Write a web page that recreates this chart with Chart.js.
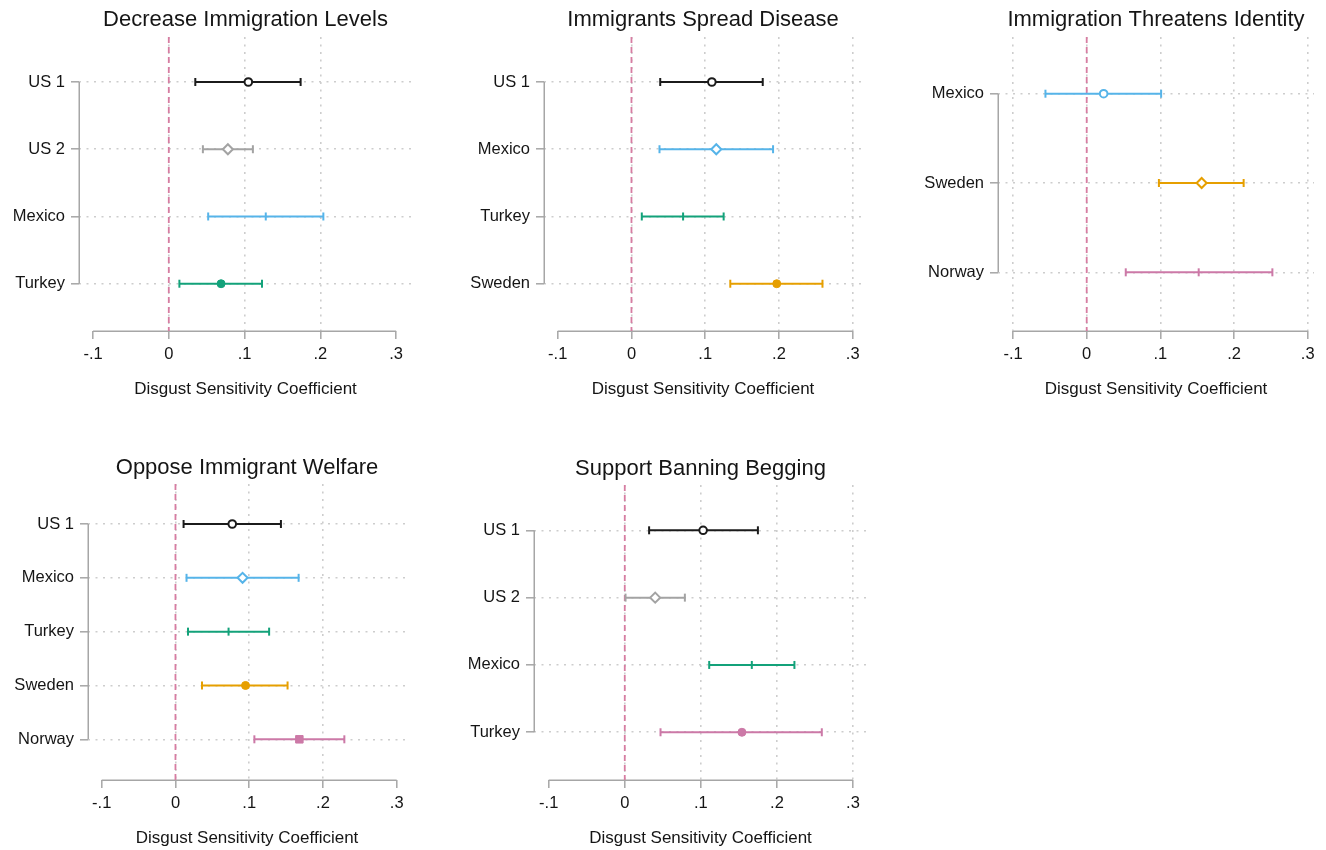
<!DOCTYPE html>
<html>
<head>
<meta charset="utf-8">
<script src="https://cdn.jsdelivr.net/npm/chart.js@4.4.1/dist/chart.umd.min.js"></script>
<style>
  html, body { margin: 0; padding: 0; background: #fff; width: 1326px; height: 850px; overflow: hidden; }
  canvas { position: absolute; }
</style>
</head>
<body>
<canvas id="c1"></canvas>
<canvas id="c2"></canvas>
<canvas id="c3"></canvas>
<canvas id="c4"></canvas>
<canvas id="c5"></canvas>
<script>
// ---------------- DATA ----------------
const xTickValues = [-0.1, 0, 0.1, 0.2, 0.3];
const xTickLabels = ['-.1', '0', '.1', '.2', '.3'];
const xAxisTitle = 'Disgust Sensitivity Coefficient';

const p1Title = 'Decrease Immigration Levels';
const p1Groups = ['US 1', 'US 2', 'Mexico', 'Turkey'];
const p1Est = [0.105, 0.078, 0.128, 0.069];
const p1Lo  = [0.035, 0.045, 0.052, 0.014];
const p1Hi  = [0.174, 0.111, 0.204, 0.123];

const p2Title = 'Immigrants Spread Disease';
const p2Groups = ['US 1', 'Mexico', 'Turkey', 'Sweden'];
const p2Est = [0.109, 0.115, 0.070, 0.197];
const p2Lo  = [0.039, 0.038, 0.014, 0.134];
const p2Hi  = [0.178, 0.192, 0.125, 0.259];

const p3Title = 'Immigration Threatens Identity';
const p3Groups = ['Mexico', 'Sweden', 'Norway'];
const p3Est = [0.023, 0.156, 0.152];
const p3Lo  = [-0.056, 0.098, 0.053];
const p3Hi  = [0.101, 0.213, 0.252];

const p4Title = 'Oppose Immigrant Welfare';
const p4Groups = ['US 1', 'Mexico', 'Turkey', 'Sweden', 'Norway'];
const p4Est = [0.077, 0.091, 0.072, 0.095, 0.168];
const p4Lo  = [0.011, 0.015, 0.017, 0.036, 0.107];
const p4Hi  = [0.143, 0.167, 0.127, 0.152, 0.229];

const p5Title = 'Support Banning Begging';
const p5Groups = ['US 1', 'US 2', 'Mexico', 'Turkey'];
const p5Est = [0.103, 0.040, 0.167, 0.154];
const p5Lo  = [0.032, 0.001, 0.111, 0.047];
const p5Hi  = [0.175, 0.079, 0.223, 0.259];

// vertical grid lines shown in each panel (tick values)
const p1Grid = [0, 0.1, 0.2];
const p2Grid = [0, 0.1, 0.2, 0.3];
const p3Grid = [-0.1, 0, 0.1, 0.2, 0.3];
const p4Grid = [0, 0.1, 0.2];
const p5Grid = [0, 0.1, 0.2, 0.3];

// ---------------- STYLES ----------------
const C = {
  black: '#1b1b1b', gray: '#a3a3a3', blue: '#56b4e9',
  green: '#13a27a', orange: '#e69f00', pink: '#cc79a7'
};
const p1Colors = [C.black, C.gray, C.blue, C.green];
const p2Colors = [C.black, C.blue, C.green, C.orange];
const p3Colors = [C.blue, C.orange, C.pink];
const p4Colors = [C.black, C.blue, C.green, C.orange, C.pink];
const p5Colors = [C.black, C.gray, C.green, C.pink];
const p1Markers = ['Oh', 'Dh', 'tick', 'O'];
const p2Markers = ['Oh', 'Dh', 'tick', 'O'];
const p3Markers = ['Oh', 'Dh', 'tick'];
const p4Markers = ['Oh', 'Dh', 'tick', 'O', 'S'];
const p5Markers = ['Oh', 'Dh', 'tick', 'O'];

// layout boxes (page pixels)
const layouts = [
  { id: 'c1', cx: 0,   cy: 0,   cw: 440, ch: 410, L: 79,  R: 412,  T: 37,  B: 331, titleY: 20,  xmin: -0.1185, xmax: 0.321,  ymin: 0.331, ymax: 4.703 },
  { id: 'c2', cx: 440, cy: 0,   cw: 440, ch: 410, L: 544, R: 862,  T: 37,  B: 331, titleY: 20,  xmin: -0.1186, xmax: 0.3126, ymin: 0.331, ymax: 4.703 },
  { id: 'c3', cx: 880, cy: 0,   cw: 446, ch: 410, L: 998, R: 1314, T: 37,  B: 331, titleY: 20,  xmin: -0.1204, xmax: 0.3085, ymin: 0.365, ymax: 3.657 },
  { id: 'c4', cx: 0,   cy: 440, cw: 440, ch: 410, L: 88,  R: 406,  T: 484, B: 780, titleY: 468, xmin: -0.1186, xmax: 0.3126, ymin: 0.257, ymax: 5.756 },
  { id: 'c5', cx: 440, cy: 440, cw: 440, ch: 410, L: 534, R: 867,  T: 485, B: 780, titleY: 469, xmin: -0.1193, xmax: 0.3184, ymin: 0.327, ymax: 4.709 }
];

const panels = [
  { title: p1Title, groups: p1Groups, est: p1Est, lo: p1Lo, hi: p1Hi, colors: p1Colors, markers: p1Markers, grid: p1Grid },
  { title: p2Title, groups: p2Groups, est: p2Est, lo: p2Lo, hi: p2Hi, colors: p2Colors, markers: p2Markers, grid: p2Grid },
  { title: p3Title, groups: p3Groups, est: p3Est, lo: p3Lo, hi: p3Hi, colors: p3Colors, markers: p3Markers, grid: p3Grid },
  { title: p4Title, groups: p4Groups, est: p4Est, lo: p4Lo, hi: p4Hi, colors: p4Colors, markers: p4Markers, grid: p4Grid },
  { title: p5Title, groups: p5Groups, est: p5Est, lo: p5Lo, hi: p5Hi, colors: p5Colors, markers: p5Markers, grid: p5Grid }
];

const FONT = 'Arial, "Liberation Sans", Helvetica, sans-serif';
const TITLE_SIZE = 22, TICK_SIZE = 16.5, AXT_SIZE = 17;
const AXIS_COLOR = '#a6a6a6', GRID_COLOR = '#cdcdcd', ZERO_COLOR = '#d77da2', TEXT_COLOR = '#151515';

function markerStyle(m, col) {
  switch (m) {
    case 'Oh':   return { pointStyle: 'circle',  radius: 3.8, bg: '#ffffff', bw: 2,   rot: 0 };
    case 'Dh':   return { pointStyle: 'rectRot', radius: 5,   bg: '#ffffff', bw: 2,   rot: 0 };
    case 'tick': return { pointStyle: 'line',    radius: 4,   bg: col,       bw: 2,   rot: 90 };
    case 'O':    return { pointStyle: 'circle',  radius: 4,   bg: col,       bw: 1,   rot: 0 };
    case 'S':    return { pointStyle: 'rect',    radius: 5.3, bg: col,       bw: 1,   rot: 0 };
  }
}

// axis lines drawn only over the data span, like Stata
const stataAxes = {
  id: 'stataAxes',
  beforeDatasetsDraw(chart, args, opts) {
    const { ctx, chartArea, scales } = chart;
    const n = opts.n;
    ctx.save();
    ctx.strokeStyle = AXIS_COLOR;
    ctx.lineWidth = 1.5;
    ctx.beginPath();
    const xL = Math.round(chartArea.left) + 0.25;
    ctx.moveTo(xL, scales.y.getPixelForValue(1));
    ctx.lineTo(xL, scales.y.getPixelForValue(n));
    const yB = Math.round(chartArea.bottom) + 0.25;
    ctx.moveTo(scales.x.getPixelForValue(xTickValues[0]), yB);
    ctx.lineTo(scales.x.getPixelForValue(xTickValues[xTickValues.length - 1]), yB);
    ctx.stroke();
    ctx.restore();
  }
};

panels.forEach((p, k) => {
  const lay = layouts[k];
  const cv = document.getElementById(lay.id);
  cv.width = lay.cw; cv.height = lay.ch;
  cv.style.left = lay.cx + 'px'; cv.style.top = lay.cy + 'px';
  cv.style.width = lay.cw + 'px'; cv.style.height = lay.ch + 'px';

  const n = p.groups.length;
  const datasets = [];
  // estimate markers
  p.est.forEach((v, i) => {
    const ms = markerStyle(p.markers[i], p.colors[i]);
    datasets.push({
      type: 'scatter', order: 0,
      data: [{ x: v, y: i + 1 }],
      pointStyle: ms.pointStyle, pointRadius: ms.radius, pointRotation: ms.rot,
      pointBackgroundColor: ms.bg, pointBorderColor: p.colors[i], pointBorderWidth: ms.bw,
      showLine: false
    });
  });
  // confidence intervals with caps
  p.lo.forEach((v, i) => {
    datasets.push({
      type: 'line', order: 1,
      data: [{ x: v, y: i + 1 }, { x: p.hi[i], y: i + 1 }],
      borderColor: p.colors[i], borderWidth: 2, fill: false, tension: 0,
      pointStyle: 'line', pointRotation: 90, pointRadius: 4,
      pointBorderColor: p.colors[i], pointBorderWidth: 2
    });
  });
  // zero reference line
  datasets.push({
    type: 'line', order: 2,
    data: [{ x: 0, y: lay.ymin }, { x: 0, y: lay.ymax }],
    borderColor: ZERO_COLOR, borderWidth: 1.8, borderDash: [6, 4],
    pointRadius: 0, fill: false
  });

  const titleLH = TITLE_SIZE * 1.2;
  const titlePadTop = (lay.titleY - lay.cy) - titleLH / 2;
  const titlePadBottom = (lay.T - lay.cy) - titlePadTop - titleLH;
  const xAxisHeight = (lay.cy + lay.ch) - lay.B;
  const axtPadBottom = (lay.cy + lay.ch) - (lay.B + 58) - AXT_SIZE * 1.2 / 2;

  new Chart(cv, {
    type: 'scatter',
    data: { datasets },
    plugins: [stataAxes],
    options: {
      responsive: false,
      animation: false,
      devicePixelRatio: 1,
      events: [],
      layout: { padding: { left: 0, top: 0, bottom: 0, right: (lay.cx + lay.cw) - lay.R } },
      plugins: {
        legend: { display: false },
        tooltip: { enabled: false },
        stataAxes: { n },
        title: {
          display: true, text: p.title, fullSize: false, color: TEXT_COLOR,
          font: { family: FONT, size: TITLE_SIZE, weight: 'normal', lineHeight: 1.2 },
          padding: { top: titlePadTop, bottom: titlePadBottom }
        }
      },
      scales: {
        x: {
          type: 'linear', min: lay.xmin, max: lay.xmax,
          afterBuildTicks: (s) => { s.ticks = xTickValues.map(v => ({ value: v })); },
          afterFit: (s) => { s.height = xAxisHeight; },
          ticks: {
            callback: (v) => xTickLabels[xTickValues.indexOf(v)],
            color: TEXT_COLOR, padding: 5.1, maxRotation: 0, autoSkip: false,
            font: { family: FONT, size: TICK_SIZE, lineHeight: 1.2 }
          },
          grid: {
            color: (ctx) => (ctx.tick && p.grid.includes(ctx.tick.value)) ? GRID_COLOR : 'rgba(0,0,0,0)',
            lineWidth: 1.6, drawTicks: true, tickLength: 8,
            tickColor: AXIS_COLOR, tickWidth: 1.5, tickBorderDash: []
          },
          border: { display: false, dash: [2, 5.5] },
          title: {
            display: true, text: xAxisTitle, color: TEXT_COLOR,
            font: { family: FONT, size: AXT_SIZE, lineHeight: 1.2 },
            padding: { top: 0, bottom: axtPadBottom }
          }
        },
        y: {
          type: 'linear', reverse: true, min: lay.ymin, max: lay.ymax,
          afterBuildTicks: (s) => { s.ticks = p.groups.map((g, i) => ({ value: i + 1 })); },
          afterFit: (s) => { s.width = lay.L - lay.cx; },
          ticks: {
            callback: (v) => p.groups[v - 1],
            color: TEXT_COLOR, padding: 6, autoSkip: false,
            font: { family: FONT, size: TICK_SIZE, lineHeight: 1.2 }
          },
          grid: {
            color: GRID_COLOR, lineWidth: 1.6, drawTicks: true, tickLength: 8,
            tickColor: AXIS_COLOR, tickWidth: 1.5, tickBorderDash: []
          },
          border: { display: false, dash: [2, 5.5] }
        }
      }
    }
  });
});
</script>
</body>
</html>
